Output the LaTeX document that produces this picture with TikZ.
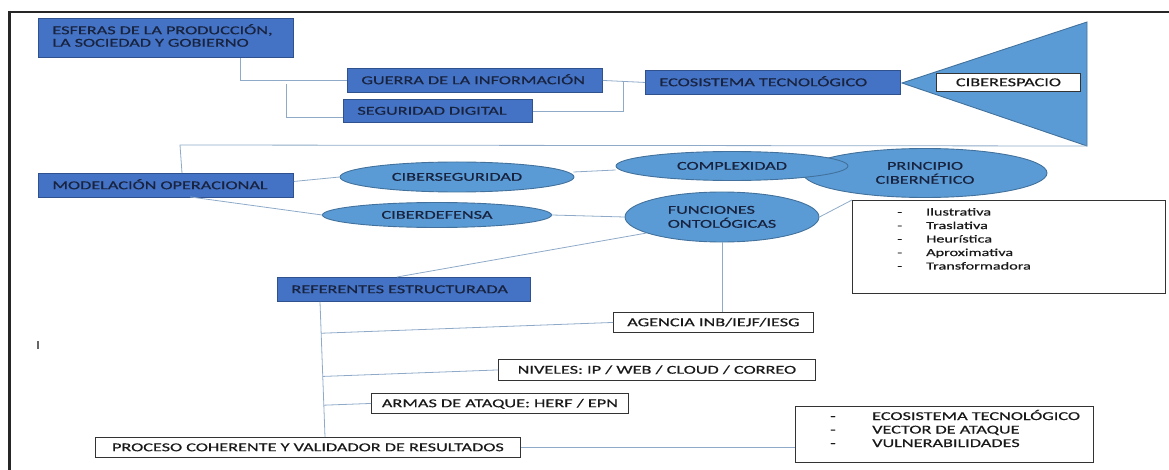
\documentclass[tikz,border=0pt]{standalone}
\usepackage{fontspec}
\setmainfont{Carlito}[FakeStretch=1.52,FakeBold=0.5]
\usetikzlibrary{shapes.geometric,calc}

\definecolor{boxblue}{HTML}{4472C4}
\definecolor{boxedge}{HTML}{2F528F}
\definecolor{ovalblue}{HTML}{5B9BD5}
\definecolor{ovaledge}{HTML}{41719C}
\definecolor{linkblue}{HTML}{8EAAC8}
\definecolor{ink}{HTML}{18233F}

\begin{document}
\begin{tikzpicture}[x=1pt,y=-1pt,
  every node/.style={font=\fontsize{12}{12.5}\selectfont},
  oneline/.style={text height=8pt, text depth=0.5pt},
  twolines/.style={font=\fontsize{12}{14}\selectfont, text height=22pt, text depth=0.5pt},
  bluebox/.style={draw=boxedge, fill=boxblue, line width=0.9pt, anchor=north west,
    inner xsep=14pt, inner ysep=0pt, align=left, text=ink},
  whitebox/.style={draw=black!80, fill=white, line width=0.9pt, anchor=north west,
    inner sep=0pt, align=center, text=black!90, oneline},
  listbox/.style={draw=black!80, fill=white, line width=0.9pt, anchor=north west, inner sep=0pt},
  oval/.style={ellipse, draw=ovaledge, fill=ovalblue, line width=0.9pt, inner sep=0pt, text=ink},
  link/.style={draw=linkblue, line width=0.8pt},
  frameline/.style={draw=black!85},
]
\useasboundingbox (0,0) rectangle (1169,470);

% page frame
\draw[frameline, line width=2pt] (8,12) -- (1169,12);
\draw[frameline, line width=3pt] (9.5,11) -- (9.5,470);
\node[text=black!60, inner sep=0pt] (cursor) at (38,345) {I};

% top row
\node[bluebox, text width=227pt, minimum height=39pt, text height=8pt, text depth=15.5pt] (esferas) at (38,18)
  {ESFERAS DE LA PRODUCCIÓN,\\LA SOCIEDAD Y GOBIERNO};
\node[bluebox, oneline, text width=227pt, minimum height=24pt] (guerra) at (347,68)
  {GUERRA DE LA INFORMACIÓN};
\node[bluebox, oneline, text width=161pt, minimum height=23pt] (seguridad) at (343,99)
  {SEGURIDAD DIGITAL};
\node[bluebox, oneline, text width=227pt, minimum height=24pt] (ecosistema) at (645,70)
  {ECOSISTEMA TECNOLÓGICO};

% cyberspace cone
\coordinate (triapex) at (902,83);
\coordinate (tritop) at (1087,22);
\coordinate (tribot) at (1087,146);
\filldraw[fill=ovalblue, draw=ovaledge, line width=0.9pt] (triapex) -- (tritop) -- (tribot) -- cycle;
\node[whitebox, minimum width=144pt, minimum height=18pt] (ciberespacio) at (936,73) {CIBERESPACIO};

% middle band
\node[bluebox, oneline, text width=227pt, minimum height=24pt] (modelacion) at (38,173)
  {MODELACIÓN OPERACIONAL};
\node[oval, oneline, minimum width=234pt, minimum height=30pt] (cibseg) at (457,177) {CIBERSEGURIDAD};
\node[oval, oneline, minimum width=229pt, minimum height=25pt] (cibdef) at (437,215) {CIBERDEFENSA};
\node[oval, twolines, minimum width=244pt, minimum height=49pt, align=center] (principio) at (925,173)
  {PRINCIPIO\\CIBERNÉTICO};
\node[oval, oneline, minimum width=232pt, minimum height=29pt] (complex) at (732,166) {COMPLEXIDAD};
\node[oval, twolines, minimum width=194pt, minimum height=50pt, align=left] (funciones) at (722,217)
  {FUNCIONES\\ONTOLÓGICAS};

\node[listbox, minimum width=313pt, minimum height=93pt] (funclist) at (852,200) {};
\node[anchor=base west, inner sep=0pt, text=black!90] (funcitems) at (897,215.5)
  {\fontsize{10.7}{13.5}\selectfont
   \begin{tabular}[t]{@{}p{29pt}@{}l@{}}
   - & Ilustrativa\\
   - & Traslativa\\
   - & Heurística\\
   - & Aproximativa\\
   - & Transformadora
   \end{tabular}};

% lower tree
\node[bluebox, oneline, text width=225pt, minimum height=24pt] (referentes) at (277,277)
  {REFERENTES ESTRUCTURADA};
\node[whitebox, minimum width=200pt, minimum height=20pt] (agencia) at (613,312) {AGENCIA INB/IEJF/IESG};
\node[whitebox, minimum width=317pt, minimum height=21pt] (niveles) at (498,359) {NIVELES: IP / WEB / CLOUD / CORREO};
\node[whitebox, minimum width=257pt, minimum height=20pt] (armas) at (371,393) {ARMAS DE ATAQUE: HERF / EPN};
\node[whitebox, minimum width=425pt, minimum height=20pt] (proceso) at (95,437) {PROCESO COHERENTE Y VALIDADOR DE RESULTADOS};

\node[listbox, minimum width=298pt, minimum height=56pt] (ecolist) at (795,406) {};
\node[anchor=base west, inner sep=0pt, text=black!90] (ecoitems) at (830,420)
  {\fontsize{12}{13.5}\selectfont
   \begin{tabular}[t]{@{}p{42pt}@{}l@{}}
   - & ECOSISTEMA TECNOLÓGICO\\
   - & VECTOR DE ATAQUE\\
   - & VULNERABILIDADES
   \end{tabular}};

% connectors, top row
\draw[link] ($(esferas.south west)+(202,0)$) |- (guerra.west);
\draw[link] ($(guerra.west)+(-61,4)$) |- ($(seguridad.south west)+(0,-5)$);
\coordinate (rjoin) at (623,81);
\draw[link] (guerra.east) -- (ecosistema.west);
\draw[link] (seguridad.east) -| (rjoin);

% cone down to the operational model
\coordinate (mbend) at (180,145);
\draw[link] (tribot) -- (mbend) -- ($(modelacion.north west)+(144,0)$);

% middle band connectors
\draw[link] ($(modelacion.east)+(0,-4)$) -- (cibseg.west);
\draw[link] ($(modelacion.south west)+(152,-1)$) -- (cibdef.west);
\draw[link] ($(cibseg.east)+(-1,-5)$) -- ($(complex.west)+(0,4)$);
\draw[link] (cibdef.east) -- (funciones.west);
\draw[link] (funciones.east) -- (funclist.north west);
\draw[link] (funciones.192) -- ($(referentes.north west)+(120,0)$);
\draw[link] (funciones.south) -- (funciones.south |- agencia.north);

% trunk and branches
\coordinate (trunktop) at ($(referentes.south west)+(43,0)$);
\coordinate (trunkbot) at ($(proceso.north west)+(230,0)$);
\draw[link] (trunktop) -- (trunkbot);
\draw[link] ($(trunktop)!(agencia.west)!(trunkbot)$) -- (agencia.west);
\draw[link] ($(trunktop)!(niveles.west)!(trunkbot)$) -- (niveles.west);
\draw[link] ($(trunktop)!(armas.west)!(trunkbot)$) -- (armas.west);
\draw[link] (proceso.east) -- (proceso.east -| ecolist.west);
\end{tikzpicture}
\end{document}
